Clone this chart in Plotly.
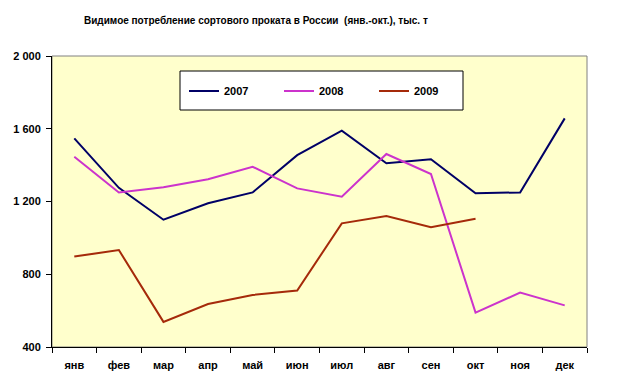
import plotly.graph_objects as go

months = ["янв", "фев", "мар", "апр", "май", "июн", "июл", "авг", "сен", "окт", "ноя", "дек"]
y2007 = [1547, 1275, 1100, 1190, 1250, 1455, 1590, 1410, 1432, 1245, 1250, 1657]
y2008 = [1446, 1250, 1278, 1322, 1391, 1272, 1226, 1461, 1351, 589, 699, 629]
y2009 = [897, 933, 538, 636, 686, 710, 1080, 1120, 1058, 1105]
ytick_vals = [400, 800, 1200, 1600, 2000]
ytick_text = ["400", "800", "1 200", "1 600", "2 000"]
title = "Видимое потребление сортового проката в России  (янв.-окт.), тыс. т"

font = "Liberation Sans, Arial, sans-serif"

fig = go.Figure()
fig.add_trace(go.Scatter(x=months, y=y2007, mode="lines", name="2007",
                         line=dict(color="#000066", width=2)))
fig.add_trace(go.Scatter(x=months, y=y2008, mode="lines", name="2008",
                         line=dict(color="#CC33CC", width=2)))
fig.add_trace(go.Scatter(x=months[:len(y2009)], y=y2009, mode="lines", name="2009",
                         line=dict(color="#A52A0A", width=2)))

# page body has an 8px margin, so the figure is drawn 8px smaller and shifted
fig.update_layout(
    width=615, height=379,
    margin=dict(l=44, r=36, t=48, b=40, autoexpand=False),
    paper_bgcolor="white",
    plot_bgcolor="#FFFFCC",
    font=dict(family=font, size=11, color="black"),
    showlegend=True,
    legend=dict(orientation="h", x=(184 - 52) / 535, y=(347 - 91) / 291,
                xanchor="left", yanchor="middle",
                bgcolor="rgba(0,0,0,0)", borderwidth=0,
                font=dict(family=font, size=11, color="black", weight="bold"),
                entrywidth=50, entrywidthmode="pixels", itemwidth=30),
    shapes=[
        dict(type="rect", xref="paper", yref="paper", x0=0, x1=1, y0=0, y1=1,
             line=dict(color="#808080", width=1), layer="below"),
        dict(type="rect", xref="paper", yref="paper",
             x0=(180 - 52) / 535, x1=(463 - 52) / 535,
             y0=(347 - 110) / 291, y1=(347 - 71) / 291,
             line=dict(color="black", width=1), fillcolor="white", layer="above"),
    ],
    annotations=[
        dict(text="<b>" + title + "</b>", xref="paper", yref="paper",
             x=(256 - 52) / 535, y=(347 - 20) / 291, xanchor="center", yanchor="middle",
             showarrow=False, font=dict(family=font, size=10, color="black")),
    ],
)

fig.update_xaxes(type="category", showgrid=False, showline=True, linecolor="black",
                 linewidth=1, ticks="outside", ticklen=5, tickcolor="black",
                 tickson="boundaries", tickfont=dict(family=font, size=11, weight="bold"),
                 range=[-0.5, 11.5], zeroline=False, automargin=False, ticklabelstandoff=8)
fig.update_yaxes(range=[400, 2000], tickvals=ytick_vals, ticktext=ytick_text,
                 showgrid=False, showline=True, linecolor="black", linewidth=1,
                 ticks="outside", ticklen=5, tickcolor="black", zeroline=False,
                 automargin=False, ticklabelstandoff=3,
                 tickfont=dict(family=font, size=11, weight="bold"))

fig.write_html("out.html")
